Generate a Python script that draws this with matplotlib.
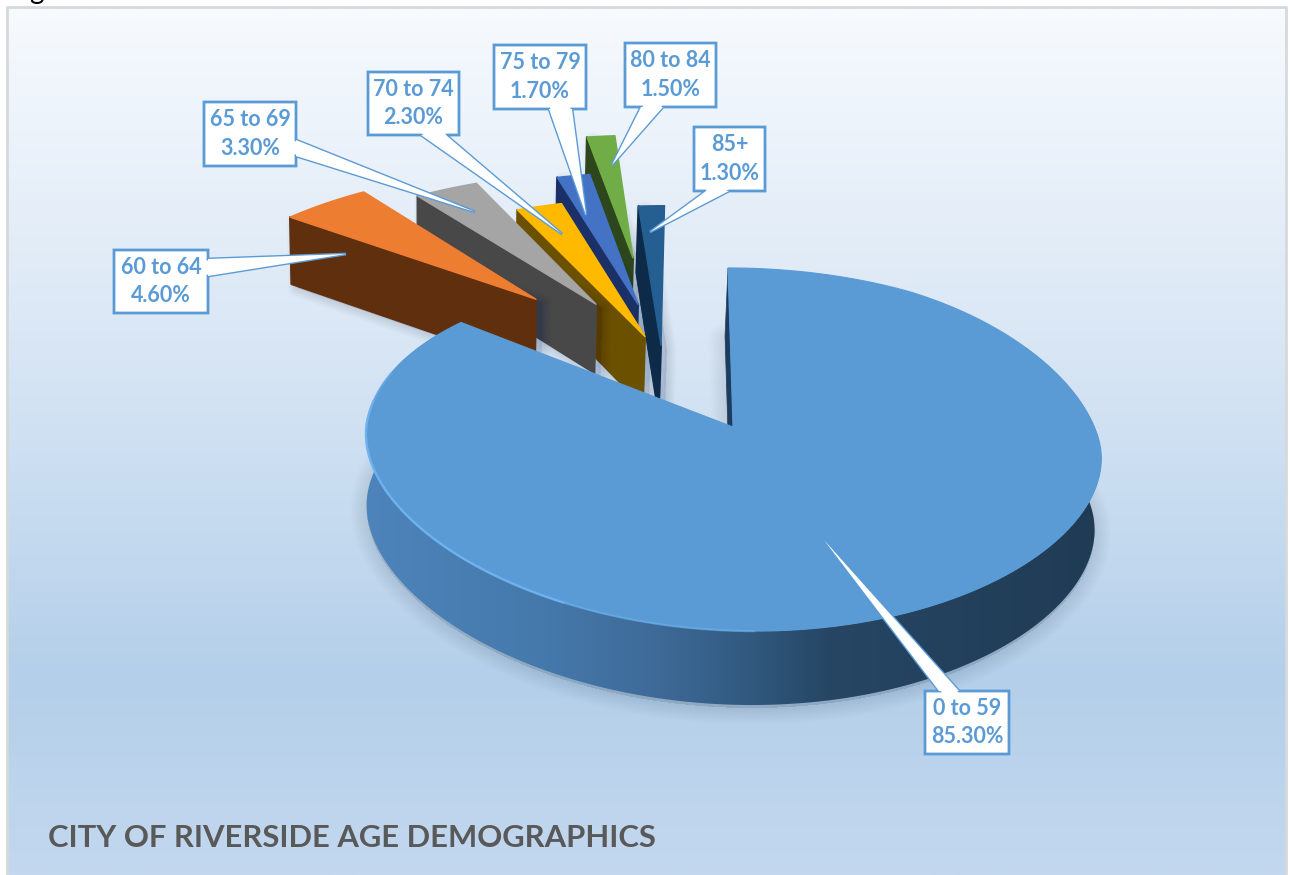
import numpy as np
import matplotlib
matplotlib.use('Agg')
import matplotlib.pyplot as plt
from matplotlib.colors import LinearSegmentedColormap
from matplotlib.patches import Polygon

plt.rcParams['font.family'] = ['Lato', 'DejaVu Sans']

# age groups and their share of the population
groups = ['0 to 59', '60 to 64', '65 to 69', '70 to 74', '75 to 79', '80 to 84', '85+']
shares = [85.3, 4.6, 3.3, 2.3, 1.7, 1.5, 1.3]

top_colors = ['#5b9bd5', '#ed7d31', '#a5a5a5', '#ffb900', '#4472c4', '#70ad47', '#255e91']
side_colors = ['#1c3d5e', '#5f2f0e', '#484848', '#6b5000', '#1b3066', '#2d461c', '#0d2b49']

# where the point of each pulled-out slice ends up, in pixels
apex_px = [(536, 300), (596, 305), (645, 338), (638, 305), (633, 258), (661, 347)]

# callouts: box (left, top, right, bottom), edge of the tail, tail base along edge, tip
callouts = [
    ((925, 691, 1009, 754), 'top', (939, 959), (824, 540)),
    ((114, 250, 208, 313), 'right', (259, 276), (346, 254)),
    ((204, 102, 296, 166), 'right', (140, 156), (475, 212)),
    ((368, 72, 459, 135), 'bottom', (421, 446), (562, 234)),
    ((494, 45, 586, 109), 'bottom', (549, 572), (586, 215)),
    ((625, 43, 716, 107), 'bottom', (641, 663), (612, 165)),
    ((694, 127, 765, 191), 'bottom', (706, 729), (650, 232)),
]

# simple perspective for the pie, x/y on the plate in radii, z going down through it
X0, Y0 = 733, 427
SX, SY, SKEW = 365, 181, -5.7
PERSP, Z_SHRINK, Z_SHIFT = 0.138, 0.01, -3
TILT = 10
SLICE_XR = 1.05


def project(x, y, z=0):
    x, y, z = np.asarray(x, float), np.asarray(y, float), np.asarray(z, float)
    w = 1 + PERSP * y
    depth = (71 - 3 * y) * z
    px = X0 + (SX * x + SKEW * y) / (w * (1 + Z_SHRINK * z)) + Z_SHIFT * z
    fade = 1 - np.clip(1.2 * y, 0, 1) ** 2
    py = Y0 - SY * y / w + depth + TILT * x * fade
    return px, py


def unproject(px, py):
    dy = Y0 - py
    y = dy / (SY - PERSP * dy)
    return ((px - X0) * (1 + PERSP * y) - SKEW * y) / SX, y


def arc(theta1, theta2, cx=0, cy=0, z=0, n=200, xr=1.0):
    t = np.radians(np.linspace(theta1, theta2, n))
    s, c = np.sin(t), np.cos(t)
    # the front of the plate is a bit flatter than a true ellipse
    c = np.where(c < 0, c * (0.85 + 0.125 * np.abs(c)), c)
    return np.column_stack(project(cx + xr * s, cy + c, z))


def soft_shadow(pts, width, alpha=0.006, color='#1f3a5f', zorder=2, layers=20):
    for lw in np.linspace(2, width, layers):
        ax.add_patch(Polygon(pts, closed=True, fc=color, ec=color, lw=lw, alpha=alpha,
                             joinstyle='round', zorder=zorder))


fig = plt.figure(figsize=(12.9, 8.75), dpi=100)
ax = fig.add_axes([0, 0, 1, 1])

# panel background
bg = LinearSegmentedColormap.from_list('bg', [
    (0.0, '#f7fafe'), (0.34, '#dde9f6'), (0.57, '#c8dcf0'), (0.775, '#b4cfea'), (1.0, '#c3d8ef')])
ax.imshow(np.linspace(0, 1, 400)[:, None], cmap=bg, extent=(7, 1286, 875, 7), aspect='auto', zorder=0)
ax.plot([7, 7, 1286, 1286], [875, 7, 7, 875], color='#d6d9da', lw=2, zorder=1)
ax.text(36, -1, 'g', fontsize=20, color='black', ha='center', va='baseline')

angles = 360 * np.cumsum([0] + shares) / sum(shares)

# soft shadow below the main slice
main_top = arc(0, angles[1])
main_bot = arc(0, angles[1], z=1)
shadow_pts = np.vstack([np.column_stack(project(0, 0, 1)), main_bot]) + [0, 3]
soft_shadow(shadow_pts, 24, alpha=0.005)

# pulled-out slices, painted back to front
for i in range(len(shares) - 1, 0, -1):
    cx, cy = unproject(*apex_px[i - 1])
    a_top = np.column_stack(project(cx, cy))[0]
    a_bot = np.column_stack(project(cx, cy, 1))[0]
    top = np.vstack([a_top, arc(angles[i], angles[i + 1], cx, cy, n=30, xr=SLICE_XR)])
    o_top = arc(angles[i], angles[i], cx, cy, n=1, xr=SLICE_XR)[0]
    o_bot = arc(angles[i], angles[i], cx, cy, z=1, n=1, xr=SLICE_XR)[0]
    side = np.array([a_top, o_top, o_bot, a_bot])
    soft_shadow(side + [6, 4], 14, alpha=0.006, zorder=3 + 2 * (7 - i), layers=12)
    ax.add_patch(Polygon(side, fc=side_colors[i], ec=side_colors[i], lw=1.5, joinstyle='round',
                         zorder=4 + 2 * (7 - i)))
    ax.add_patch(Polygon(top, fc=top_colors[i], ec=top_colors[i], lw=1, joinstyle='round',
                         zorder=4 + 2 * (7 - i)))

# main slice: cut face, outer wall with its shading, then the top
Z_MAIN = 30
cut = np.column_stack(project([0, 0, 0, 0], [0, 1, 1, 0], [0, 0, 1, 1]))
ax.add_patch(Polygon(cut, fc=side_colors[0], ec=side_colors[0], lw=0.5, zorder=Z_MAIN))

wall_pts = np.vstack([arc(60, 300), arc(60, 300, z=1)[::-1]])
wall = Polygon(wall_pts, fc='none', ec='none', zorder=Z_MAIN)
ax.add_patch(wall)
wall_cmap = LinearSegmentedColormap.from_list('wall', [
    (0.0, '#4d84bb'), (0.25, '#4579ab'), (0.4, '#3e6a97'), (0.52, '#325a80'),
    (0.63, '#264664'), (1.0, '#203b54')])
im = ax.imshow(np.linspace(0, 1, 600)[None, :], cmap=wall_cmap, extent=(360, 1105, 800, 300),
               aspect='auto', zorder=Z_MAIN)
im.set_clip_path(wall)

top = np.vstack([np.column_stack(project(0, 0)), main_top])
ax.add_patch(Polygon(top, fc=top_colors[0], ec=top_colors[0], lw=0.8, zorder=Z_MAIN + 1))
# bevel highlight on the lit side of the rim
for t1, t2, a in [(178, 262, 0.5), (205, 275, 0.9), (262, 285, 0.5)]:
    rim = arc(t1, t2, n=120)
    ax.plot(rim[:, 0], rim[:, 1], color='#6fb4f0', lw=1.6, alpha=a, zorder=Z_MAIN + 2)

# data callouts
for (box, edge, base, tip), name, share in zip(callouts, groups, shares):
    l, t, r, b = box
    if edge == 'top':
        tail = [(base[0], t), tip, (base[1], t)]
        pts = [(l, t)] + tail + [(r, t), (r, b), (l, b)]
    elif edge == 'right':
        tail = [(r, base[0]), tip, (r, base[1])]
        pts = [(l, t), (r, t)] + tail + [(r, b), (l, b)]
    else:
        tail = [(base[1], b), tip, (base[0], b)]
        pts = [(l, t), (r, t), (r, b)] + tail + [(l, b)]
    ax.add_patch(Polygon(pts, fc='white', ec='#5b9bd5', lw=2, joinstyle='miter', zorder=Z_MAIN + 3))
    # keeps the thin end of the tail white up to its tip
    ax.add_patch(Polygon(tail, fc='white', ec='none', zorder=Z_MAIN + 3.5))
    ax.text((l + r) / 2, (t + b) / 2, f'{name}\n{share:.2f}%', color='#5b9bd5', fontsize=15.5,
            fontweight='bold', ha='center', va='center', linespacing=1.42, zorder=Z_MAIN + 4)

ax.text(48, 838, 'CITY OF RIVERSIDE AGE DEMOGRAPHICS', color='#595959', fontsize=22.3,
        fontweight='bold', ha='left', va='center', zorder=Z_MAIN + 4)

ax.set_xlim(0, 1290)
ax.set_ylim(875, 0)
ax.axis('off')
fig.savefig('out.png', dpi=100, facecolor='white')
